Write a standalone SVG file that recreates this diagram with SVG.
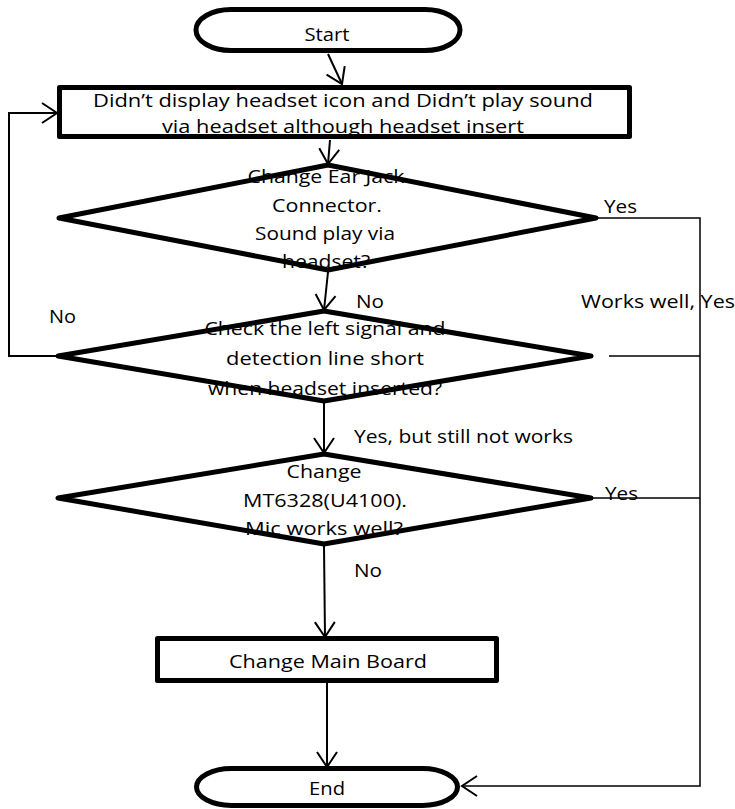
<svg xmlns="http://www.w3.org/2000/svg" width="735" height="809" viewBox="0 0 735 809">
<style>
  .t { font-family: "Open Sans", "Liberation Sans", sans-serif; font-size: 19px; fill: #000; }
  .m { text-anchor: middle; }
  .shape { fill: none; stroke: #000; stroke-width: 5; stroke-linejoin: round; }
  .bg { fill: #fff; stroke: none; }
  .c { fill: none; stroke: #000; stroke-width: 2; }
  .cr { fill: none; stroke: #000; stroke-width: 1.5; }
</style>
<defs>
  <marker id="arr" markerWidth="20" markerHeight="24" refX="16" refY="11" orient="auto" markerUnits="userSpaceOnUse" overflow="visible">
    <path d="M1,1 L16,11 L1,21" fill="none" stroke="#000" stroke-width="2"/>
  </marker>
</defs>
<rect width="735" height="809" fill="#fff"/>

<g id="connectors">
  <path class="c" d="M328,54 L342,84" marker-end="url(#arr)"/>
  <path class="c" d="M330,140 L328,164" marker-end="url(#arr)"/>
  <path class="c" d="M328,272 L324,310" marker-end="url(#arr)"/>
  <path class="c" d="M324,403 L324,453" marker-end="url(#arr)"/>
  <path class="c" d="M324,546 L325,637" marker-end="url(#arr)"/>
  <path class="c" d="M327,683 L327,767" marker-end="url(#arr)"/>
  <path class="c" d="M56,356 L9,356 L9,113 L57,113" marker-end="url(#arr)"/>
  <path class="cr" d="M598,218 L700,218 L700,786 L462,786" marker-end="url(#arr)"/>
  <path class="cr" d="M593,498 L700,498"/>
  <path class="cr" d="M609,356 L700,356"/>
</g>

<g id="start">
  <rect class="bg" x="196" y="9.5" width="264" height="41" rx="35" ry="20.5"/>
  <rect class="shape" x="196" y="9.5" width="264" height="41" rx="35" ry="20.5"/>
  <text class="t m" x="327" y="41" textLength="45" lengthAdjust="spacingAndGlyphs">Start</text>
</g>

<g id="symptom">
  <rect class="bg" x="59.5" y="87.5" width="570" height="49"/>
  <rect class="shape" x="59.5" y="87.5" width="570" height="49"/>
  <text class="t m" x="343" y="107" textLength="500" lengthAdjust="spacingAndGlyphs">Didn’t display headset icon and Didn’t play sound</text>
  <text class="t m" x="343" y="133" textLength="362" lengthAdjust="spacingAndGlyphs">via headset although headset insert</text>
</g>

<g id="decision1">
  <polygon class="bg" points="328,165 596,218 328,270 59,218"/>
  <text class="t m" x="326" y="183" textLength="157" lengthAdjust="spacingAndGlyphs">Change Ear Jack</text>
  <text class="t m" x="327" y="212" textLength="110" lengthAdjust="spacingAndGlyphs">Connector.</text>
  <text class="t m" x="325" y="240" textLength="140" lengthAdjust="spacingAndGlyphs">Sound play via</text>
  <text class="t m" x="326" y="268" textLength="88" lengthAdjust="spacingAndGlyphs">headset?</text>
  <polygon class="shape" points="328,165 596,218 328,270 59,218"/>
</g>

<g id="decision2">
  <polygon class="bg" points="324,311 591,356 324,401 58,356"/>
  <text class="t m" x="325" y="335" textLength="241" lengthAdjust="spacingAndGlyphs">Check the left signal and</text>
  <text class="t m" x="325" y="365" textLength="198" lengthAdjust="spacingAndGlyphs">detection line short</text>
  <text class="t m" x="325" y="395" textLength="234" lengthAdjust="spacingAndGlyphs">when headset  inserted?</text>
  <polygon class="shape" points="324,311 591,356 324,401 58,356"/>
</g>

<g id="decision3">
  <polygon class="bg" points="324,454 591,498 324,544 58,498"/>
  <text class="t m" x="324" y="478" textLength="75" lengthAdjust="spacingAndGlyphs">Change</text>
  <text class="t m" x="325" y="507" textLength="164" lengthAdjust="spacingAndGlyphs">MT6328(U4100).</text>
  <text class="t m" x="324" y="535" textLength="158" lengthAdjust="spacingAndGlyphs">Mic  works well?</text>
  <polygon class="shape" points="324,454 591,498 324,544 58,498"/>
</g>

<g id="mainboard">
  <rect class="bg" x="157.5" y="638.5" width="339" height="42"/>
  <rect class="shape" x="157.5" y="638.5" width="339" height="42"/>
  <text class="t m" x="328" y="668" textLength="198" lengthAdjust="spacingAndGlyphs">Change Main Board</text>
</g>

<g id="end">
  <rect class="bg" x="196.5" y="768.5" width="261" height="37" rx="35" ry="18.5"/>
  <rect class="shape" x="196.5" y="768.5" width="261" height="37" rx="35" ry="18.5"/>
  <text class="t m" x="327" y="795" textLength="36" lengthAdjust="spacingAndGlyphs">End</text>
</g>

<g id="labels">
  <text class="t" x="604" y="213" textLength="33" lengthAdjust="spacingAndGlyphs">Yes</text>
  <text class="t" x="356" y="308" textLength="28" lengthAdjust="spacingAndGlyphs">No</text>
  <text class="t" x="49" y="323" textLength="27" lengthAdjust="spacingAndGlyphs">No</text>
  <text class="t" x="581" y="308" textLength="154" lengthAdjust="spacingAndGlyphs">Works well, Yes</text>
  <text class="t" x="354" y="443" textLength="219" lengthAdjust="spacingAndGlyphs">Yes, but still not works</text>
  <text class="t" x="605" y="500" textLength="33" lengthAdjust="spacingAndGlyphs">Yes</text>
  <text class="t" x="354" y="577" textLength="28" lengthAdjust="spacingAndGlyphs">No</text>
</g>
</svg>
